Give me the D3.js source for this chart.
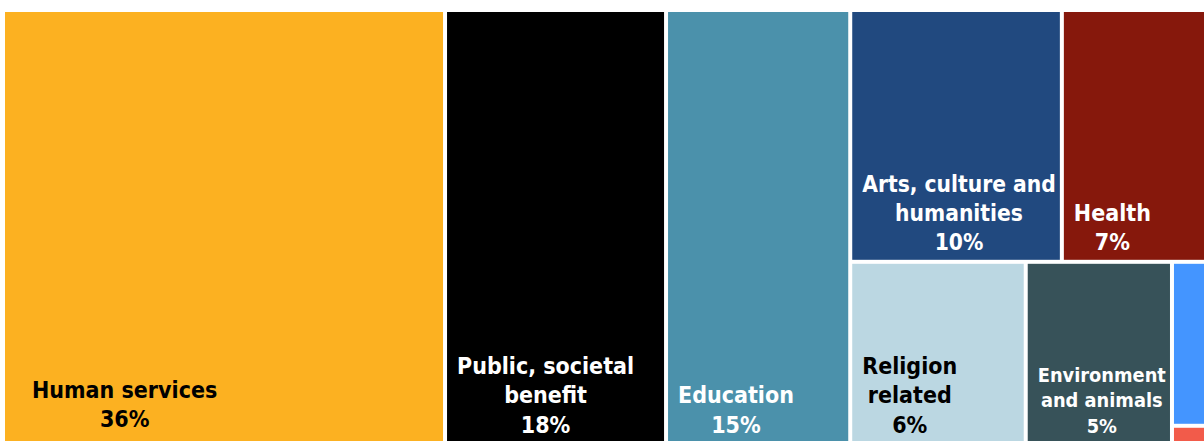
<!DOCTYPE html>
<html>
<head>
<meta charset="utf-8">
<script src="https://cdn.jsdelivr.net/npm/d3@7"></script>
<style>
  html, body { margin: 0; padding: 0; background: #fff; overflow: hidden; }
  svg { display: block; }
  text { font-family: "DejaVu Sans Condensed", "DejaVu Sans", sans-serif; font-weight: bold; }
</style>
</head>
<body>
<div id="chart"></div>
<script>
// Share of giving by recipient category (percent)
const categories = [
  "Human services",
  "Public, societal benefit",
  "Education",
  "Arts, culture and humanities",
  "Health",
  "Religion related",
  "Environment and animals",
  "International affairs",
  "Other"
];
const shares = [36, 18, 15, 10, 7, 6, 5, 1.17, 0.13];
const shareLabels = ["36%", "18%", "15%", "10%", "7%", "6%", "5%", "1%", ""];
const labelLines = [
  ["Human services"],
  ["Public, societal", "benefit"],
  ["Education"],
  ["Arts, culture and", "humanities"],
  ["Health"],
  ["Religion", "related"],
  ["Environment", "and animals"],
  ["International", "affairs"],
  ["Other"]
];
const fills = ["#FCB121", "#000000", "#4B91AB", "#21497F", "#86180C", "#BBD7E2", "#375259", "#4495FF", "#F25B4A"];
const textFills = ["#000", "#fff", "#fff", "#fff", "#fff", "#000", "#fff", "#fff", "#fff"];

// Grouping of categories into the column / row blocks of the layout (indices)
const blocks = {
  columns: [0, 1, 2],
  topRow: [3, 4],
  bottomRow: [5, 6],
  stack: [7, 8]
};

const width = 1204, height = 441;
const margin = {left: 5, top: 12};
const mapW = 1203, mapH = 430;

const leaf = i => ({name: categories[i], value: shares[i], idx: i});
const tree = {
  name: "all",
  children: [
    ...blocks.columns.map(leaf),
    {name: "rest", children: [
      {name: "top", children: blocks.topRow.map(leaf)},
      {name: "bottom", children: [
        ...blocks.bottomRow.map(leaf),
        {name: "small", children: blocks.stack.map(leaf)}
      ]}
    ]}
  ]
};

const root = d3.hierarchy(tree).sum(d => d.value || 0);
d3.treemap()
  .tile(d3.treemapSliceDice)
  .size([mapW, mapH])
  .paddingInner(4)
  .round(false)(root);

const svg = d3.select("#chart").append("svg")
  .attr("width", width)
  .attr("height", height);

const g = svg.append("g").attr("transform", `translate(${margin.left},${margin.top})`);

const leaves = root.leaves();

g.selectAll("rect.tile")
  .data(leaves)
  .join("rect")
  .attr("class", "tile")
  .attr("x", d => d.x0)
  .attr("y", d => d.y0)
  .attr("width", d => d.x1 - d.x0)
  .attr("height", d => d.y1 - d.y0)
  .attr("fill", d => fills[d.data.idx]);

// Labels: name lines plus the share, bottom-left block with centred lines
const baseSize = 23, lineRatio = 1.28;
leaves.forEach(d => {
  const i = d.data.idx;
  const w = d.x1 - d.x0;
  if (w < 60) return;
  const big = w > 300;
  const padX = big ? 27 : 10;
  const padB = big ? 15 : 9.5;
  const lines = labelLines[i].concat([shareLabels[i]]);

  const t = g.append("text")
    .attr("fill", textFills[i])
    .style("font-size", baseSize + "px");
  const spans = lines.map(s => t.append("tspan").text(s));

  let maxW = d3.max(spans, s => s.node().getComputedTextLength());
  let size = baseSize;
  const avail = w - padX - 4;
  if (maxW > avail) {
    size = baseSize * avail / maxW;
    t.style("font-size", size + "px");
    maxW = d3.max(spans, s => s.node().getComputedTextLength());
  }
  const lh = size * lineRatio;
  const cx = d.x0 + padX + maxW / 2;
  const lastY = d.y1 - padB;
  spans.forEach((s, k) => {
    s.attr("x", cx)
     .attr("y", lastY - (lines.length - 1 - k) * lh)
     .attr("text-anchor", "middle");
  });
});
</script>
</body>
</html>
